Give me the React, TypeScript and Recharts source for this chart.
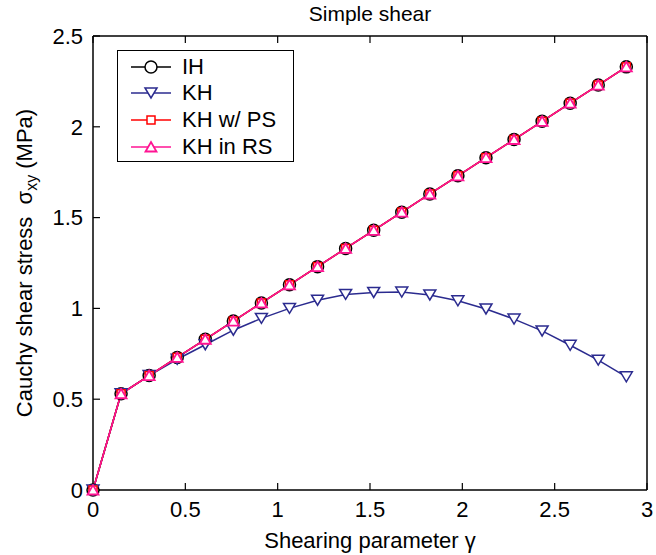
import { LineChart, Line, XAxis, YAxis, Legend, Label } from 'recharts';

// shearing parameter gamma at each load step
const gamma = [0, 0.152, 0.304, 0.456, 0.608, 0.76, 0.912, 1.064, 1.216, 1.368, 1.52, 1.672, 1.824, 1.976, 2.128, 2.28, 2.432, 2.584, 2.736, 2.888];
const ih = [0, 0.53, 0.63, 0.73, 0.83, 0.93, 1.03, 1.13, 1.23, 1.33, 1.43, 1.53, 1.63, 1.73, 1.83, 1.93, 2.03, 2.13, 2.23, 2.33];
const kh = [0, 0.53, 0.63, 0.72, 0.8, 0.88, 0.945, 1.0, 1.045, 1.077, 1.088, 1.09, 1.074, 1.042, 0.997, 0.941, 0.876, 0.797, 0.715, 0.623];
const khPs = [0, 0.53, 0.63, 0.73, 0.83, 0.93, 1.03, 1.13, 1.23, 1.33, 1.43, 1.53, 1.63, 1.73, 1.83, 1.93, 2.03, 2.13, 2.23, 2.33];
const khRs = [0, 0.53, 0.63, 0.73, 0.83, 0.93, 1.03, 1.13, 1.23, 1.33, 1.43, 1.53, 1.63, 1.73, 1.83, 1.93, 2.03, 2.13, 2.23, 2.33];

const seriesNames = ['IH', 'KH', 'KH w/ PS', 'KH in RS'];
const seriesKeys = ['ih', 'kh', 'khPs', 'khRs'];
const seriesColors = ['#000000', '#2b2b8f', '#ff0000', '#ff1493'];

const xTicks = [0, 0.5, 1, 1.5, 2, 2.5, 3];
const yTicks = [0, 0.5, 1, 1.5, 2, 2.5];

const data = gamma.map((g, i) => ({ x: g, ih: ih[i], kh: kh[i], khPs: khPs[i], khRs: khRs[i] }));

const FONT = '"Liberation Sans", Arial, Helvetica, sans-serif';

function marker(kind: string, cx: number, cy: number, color: string, key?: any) {
    if (kind === 'circle') {
        return <circle key={key} cx={cx} cy={cy} r={6} fill="#fff" stroke={color} strokeWidth={1.5} />;
    }
    if (kind === 'down') {
        return <path key={key} d={`M${cx - 6},${cy - 5}L${cx + 6},${cy - 5}L${cx},${cy + 5}Z`} fill="#fff" stroke={color} strokeWidth={1.5} />;
    }
    if (kind === 'square') {
        return <rect key={key} x={cx - 4} y={cy - 4} width={8} height={8} fill="#fff" stroke={color} strokeWidth={1.5} />;
    }
    return <path key={key} d={`M${cx - 5.5},${cy + 4.5}L${cx + 5.5},${cy + 4.5}L${cx},${cy - 5}Z`} fill="#fff" stroke={color} strokeWidth={1.8} />;
}

const markerKinds = ['circle', 'down', 'square', 'up'];

const dotFor = (idx: number) => (p: any) => {
    if (p.cx == null || p.cy == null) return <g key={p.index} />;
    return marker(markerKinds[idx], p.cx, p.cy, seriesColors[idx], p.index);
};

function LegendBox() {
    return (
        <div style={{
            position: 'relative', width: 177, height: 112, boxSizing: 'border-box',
            border: '1.5px solid #000', background: '#fff', fontFamily: FONT,
        }}>
            {seriesNames.map((name, i) => (
                <div key={name} style={{ position: 'absolute', left: 0, top: 2.5 + i * 26.7, height: 26, width: '100%' }}>
                    <svg width={60} height={26} style={{ position: 'absolute', left: 0, top: 0 }}>
                        <line x1={13} x2={53} y1={13} y2={13} stroke={seriesColors[i]} strokeWidth={1.5} />
                        {marker(markerKinds[i], 33, 13, seriesColors[i])}
                    </svg>
                    <span style={{ position: 'absolute', left: 64, top: 0, lineHeight: '26px', fontSize: 22, color: '#000', whiteSpace: 'nowrap' }}>{name}</span>
                </div>
            ))}
        </div>
    );
}

function YTitle(props: any) {
    const vb = props.viewBox || {};
    const cy = vb.y + vb.height / 2;
    const x = 32;
    return (
        <text x={x} y={cy} transform={`rotate(-90, ${x}, ${cy})`} textAnchor="middle" fontSize={22} fill="#000">
            {'Cauchy shear stress\u00a0\u00a0σ'}
            <tspan dy={5} fontSize={16}>xy</tspan>
            <tspan dy={-5}>{'\u00a0(MPa)'}</tspan>
        </text>
    );
}

const axisLine = { stroke: '#000', strokeWidth: 1.5 };
const tickLine = { stroke: '#000', strokeWidth: 1.2 };

export default function App() {
    return (
        <div style={{ position: 'absolute', left: 0, top: 0, width: 656, height: 555, background: '#fff', fontFamily: FONT }}>
            <LineChart width={656} height={555} data={data} margin={{ top: 35, right: 8, bottom: 0, left: 0 }}>
                <XAxis
                    dataKey="x" type="number" domain={[0, 3]} ticks={xTicks} interval={0}
                    height={65} tickSize={-7} tickMargin={18}
                    axisLine={axisLine} tickLine={tickLine} tick={{ fill: '#000', fontSize: 22 }}
                >
                    <Label value="Shearing parameter γ" position="insideBottom" offset={7} fontSize={22} fill="#000" />
                </XAxis>
                <XAxis
                    xAxisId="top" orientation="top" dataKey="x" type="number" domain={[0, 3]} ticks={xTicks}
                    interval={0} height={1} tickSize={-7} tickFormatter={() => ''}
                    axisLine={axisLine} tickLine={tickLine}
                >
                    <Label value="Simple shear" position="top" offset={14} fontSize={21} fill="#000" />
                </XAxis>
                <YAxis
                    type="number" domain={[0, 2.5]} ticks={yTicks} interval={0}
                    width={93} tickSize={-7} tickMargin={17}
                    axisLine={axisLine} tickLine={tickLine} tick={{ fill: '#000', fontSize: 22 }}
                >
                    <Label content={<YTitle />} />
                </YAxis>
                <YAxis
                    yAxisId="right" orientation="right" type="number" domain={[0, 2.5]} ticks={yTicks}
                    interval={0} width={1} tickSize={-7} tickFormatter={() => ''}
                    axisLine={axisLine} tickLine={tickLine}
                />
                <Legend
                    layout="vertical" align="center" verticalAlign="middle"
                    wrapperStyle={{ left: 117, top: 50, width: 177, height: 112 }}
                    content={() => <LegendBox />}
                />
                {seriesKeys.map((k, i) => (
                    <Line
                        key={k}
                        type="linear"
                        dataKey={k}
                        name={seriesNames[i]}
                        stroke={seriesColors[i]}
                        strokeWidth={1.5}
                        dot={dotFor(i)}
                        activeDot={false}
                        isAnimationActive={false}
                    />
                ))}
            </LineChart>
        </div>
    );
}
